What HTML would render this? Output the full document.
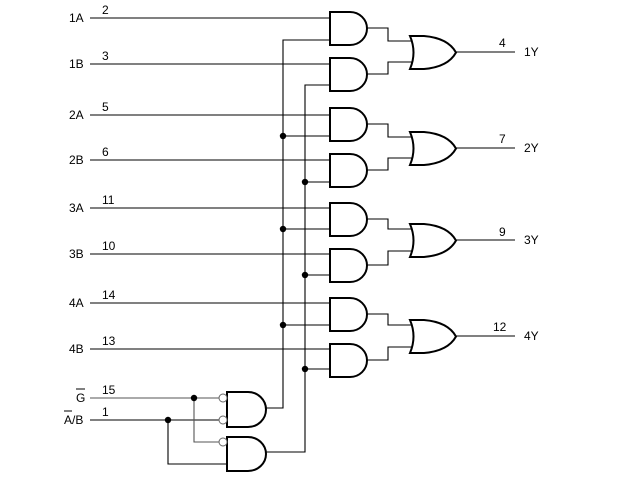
<!DOCTYPE html>
<html><head><meta charset="utf-8"><style>
html,body{margin:0;padding:0;background:#fff;}
svg{display:block;}
text{font-family:"Liberation Sans",Arial,sans-serif;font-size:12px;fill:#000;}
</style></head><body>
<svg width="629" height="479" viewBox="0 0 629 479" xmlns="http://www.w3.org/2000/svg">
<defs>
<path id="and" d="M0,0 H20 A17,16.5 0 0 1 20,33 H0 Z" fill="#fff" stroke="#000" stroke-width="2"/>
<path id="or" d="M0,0 H14 Q38,2 46,16.5 Q38,31 14,33 H0 Q7,16.5 0,0 Z" fill="#fff" stroke="#000" stroke-width="2"/>
</defs>
<g stroke="#000" stroke-width="1.1" fill="none">
<line x1="90" y1="18" x2="330" y2="18"/>
<line x1="90" y1="64" x2="330" y2="64"/>
<line x1="90" y1="115" x2="330" y2="115"/>
<line x1="90" y1="160" x2="330" y2="160"/>
<line x1="90" y1="208" x2="330" y2="208"/>
<line x1="90" y1="254" x2="330" y2="254"/>
<line x1="90" y1="303" x2="330" y2="303"/>
<line x1="90" y1="349" x2="330" y2="349"/>
<polyline points="266,408 283,408 283,40 330,40"/>
<polyline points="266,452 305,452 305,85 330,85"/>
<line x1="283" y1="136" x2="330" y2="136"/>
<line x1="283" y1="229" x2="330" y2="229"/>
<line x1="283" y1="325" x2="330" y2="325"/>
<line x1="305" y1="182" x2="330" y2="182"/>
<line x1="305" y1="275" x2="330" y2="275"/>
<line x1="305" y1="369" x2="330" y2="369"/>
<polyline points="367,28 388,28 388,41 412,41"/>
<polyline points="367,74 388,74 388,62 412,62"/>
<polyline points="367,124 388,124 388,137 412,137"/>
<polyline points="367,170 388,170 388,158 412,158"/>
<polyline points="367,219 388,219 388,229 412,229"/>
<polyline points="367,265 388,265 388,251 412,251"/>
<polyline points="367,314 388,314 388,325 412,325"/>
<polyline points="367,360 388,360 388,347 412,347"/>
<line x1="456" y1="52" x2="515" y2="52"/>
<line x1="456" y1="148" x2="515" y2="148"/>
<line x1="456" y1="240" x2="515" y2="240"/>
<line x1="456" y1="336" x2="515" y2="336"/>
<line x1="90" y1="398" x2="219" y2="398" stroke="#555"/>
<line x1="90" y1="420" x2="219" y2="420"/>
<polyline points="194,398 194,442 219,442" stroke="#555"/>
<polyline points="168,420 168,464 227,464"/>
</g>
<use href="#and" x="330" y="12"/>
<use href="#and" x="330" y="58"/>
<use href="#and" x="330" y="108"/>
<use href="#and" x="330" y="154"/>
<use href="#and" x="330" y="203"/>
<use href="#and" x="330" y="249"/>
<use href="#and" x="330" y="298"/>
<use href="#and" x="330" y="344"/>
<use href="#or" x="410" y="36"/>
<use href="#or" x="410" y="132"/>
<use href="#or" x="410" y="224"/>
<use href="#or" x="410" y="320"/>
<path d="M227,392 H248 A18,17.5 0 0 1 248,427 H227 Z" fill="#fff" stroke="#000" stroke-width="2"/>
<path d="M227,437 H248 A18,17 0 0 1 248,471 H227 Z" fill="#fff" stroke="#000" stroke-width="2"/>
<g fill="#fff" stroke="#666" stroke-width="1">
<circle cx="223" cy="398" r="4"/>
<circle cx="223" cy="420" r="4"/>
<circle cx="223" cy="442" r="4"/>
</g>
<g fill="#000">
<circle cx="283" cy="136" r="3.2"/><circle cx="283" cy="229" r="3.2"/><circle cx="283" cy="325" r="3.2"/>
<circle cx="305" cy="182" r="3.2"/><circle cx="305" cy="275" r="3.2"/><circle cx="305" cy="369" r="3.2"/>
<circle cx="194" cy="398" r="3.2"/><circle cx="168" cy="420" r="3.2"/>
</g>
<g>
<text x="69" y="22">1A</text><text x="102" y="14">2</text>
<text x="69" y="68">1B</text><text x="102" y="60">3</text>
<text x="69" y="119">2A</text><text x="102" y="111">5</text>
<text x="69" y="164">2B</text><text x="102" y="156">6</text>
<text x="69" y="212">3A</text><text x="102" y="204">11</text>
<text x="69" y="258">3B</text><text x="102" y="250">10</text>
<text x="69" y="307">4A</text><text x="102" y="299">14</text>
<text x="69" y="353">4B</text><text x="102" y="345">13</text>
<text x="76" y="402">G</text><text x="102" y="394">15</text>
<text x="64" y="424">A/B</text><text x="102" y="416">1</text>
<text x="499" y="47">4</text><text x="524" y="56">1Y</text>
<text x="499" y="143">7</text><text x="524" y="152">2Y</text>
<text x="499" y="236">9</text><text x="524" y="244">3Y</text>
<text x="493" y="331">12</text><text x="524" y="340">4Y</text>
</g>
<line x1="76" y1="389" x2="85" y2="389" stroke="#000" stroke-width="1"/>
<line x1="64" y1="411" x2="72" y2="411" stroke="#000" stroke-width="1"/>
</svg>
</body></html>
